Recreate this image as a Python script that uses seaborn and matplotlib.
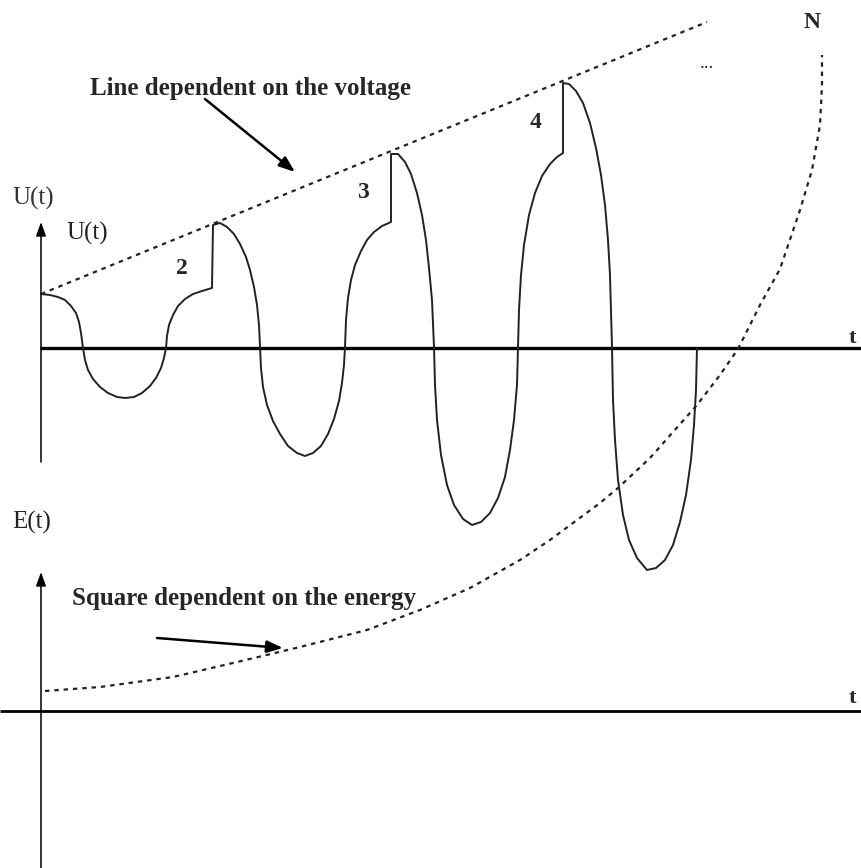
import matplotlib
matplotlib.use("Agg")
import matplotlib.pyplot as plt
import seaborn as sns
import pandas as pd

# ---- data (pixel-like units, y grows downward) ----
wave_x = [41, 50, 58, 65, 71, 76, 79, 81, 83,
          85, 88, 93, 100, 108, 117, 125, 134, 142, 150, 156, 161, 164, 166,
          167, 169, 173, 178, 185, 193, 202, 212,
          213, 220, 227, 234, 240, 246, 250, 254, 257, 259, 260,
          261, 263, 267, 273, 280, 288, 297, 305, 313, 321, 328, 334, 339, 342, 344, 345,
          346, 348, 351, 355, 361, 367, 374, 382, 391,
          391, 398, 405, 411, 417, 422, 426, 429, 432, 434,
          435, 437, 441, 447, 454, 463, 472, 481, 490, 498, 505, 510, 514, 517, 518,
          519, 521, 524, 529, 535, 542, 550, 557, 563,
          563, 569, 576, 583, 590, 596, 601, 605, 608, 610, 611, 612,
          613, 615, 618, 623, 629, 637, 647, 656, 665, 673, 680, 686, 691, 694, 696, 697]
wave_y = [294, 295, 297, 300, 306, 313, 322, 333, 348,
          360, 370, 379, 387, 393, 397, 398, 397, 393, 386, 378, 368, 358, 348,
          336, 325, 315, 306, 299, 294, 291, 288,
          225, 223, 227, 234, 244, 257, 270, 287, 305, 325, 347,
          368, 387, 405, 421, 434, 446, 453, 456, 453, 446, 434, 419, 401, 383, 365, 347,
          320, 298, 280, 265, 251, 240, 232, 226, 222,
          154, 154, 162, 174, 193, 215, 240, 268, 300, 347,
          385, 420, 455, 485, 505, 519, 525, 522, 513, 498, 477, 450, 420, 385, 347,
          310, 275, 245, 215, 193, 176, 164, 157, 153,
          83, 84, 91, 103, 123, 148, 175, 205, 240, 275, 310, 347,
          400, 440, 480, 515, 540, 558, 570, 568, 560, 545, 522, 495, 460, 425, 390, 348]

voltage_x = [41, 707]
voltage_y = [294, 22]

energy_x = [45, 100, 173, 233, 300, 367, 420, 470, 520, 550, 600, 618, 650, 697, 720,
            738, 760, 780, 800, 812, 820, 822, 822]
energy_y = [691, 687, 677, 663, 647, 630, 610, 588, 560, 540, 503, 488, 458, 405, 375,
            349, 305, 269, 210, 170, 125, 85, 55]

peak_labels = ["2", "3", "4"]
peak_label_x = [182, 363, 536]
peak_label_y = [268, 192, 123]

# ---- figure ----
sns.set_theme(style="white")
plt.rcParams["font.family"] = ["Liberation Serif", "DejaVu Serif"]

fig = plt.figure(figsize=(8.62, 8.68), dpi=100)
ax = fig.add_axes([0, 0, 1, 1])

# horizontal time axes
ax.plot([40, 862], [348, 348], color="black", lw=2.4, solid_capstyle="butt")
ax.plot([0, 862], [711, 711], color="black", lw=2.0, solid_capstyle="butt")

# vertical axes with arrow heads
arrow_kw = dict(arrowstyle="-|>,head_length=0.7,head_width=0.25", color="black", lw=1.1,
                shrinkA=0, shrinkB=0)
ax.annotate("", xy=(41, 222), xytext=(41, 462), arrowprops=arrow_kw)
ax.annotate("", xy=(41, 572), xytext=(41, 868), arrowprops=arrow_kw)

# waveform
wave_df = pd.DataFrame({"x": wave_x, "y": wave_y})
sns.lineplot(data=wave_df, x="x", y="y", sort=False, estimator=None, ax=ax,
             color="#222222", lw=1.4)

# voltage envelope line (dotted)
volt_df = pd.DataFrame({"x": voltage_x, "y": voltage_y})
sns.lineplot(data=volt_df, x="x", y="y", sort=False, estimator=None, ax=ax,
             color="#222222", lw=1.6, linestyle=(0, (2.0, 2.2)))

# energy curve (dotted)
en_df = pd.DataFrame({"x": energy_x, "y": energy_y})
sns.lineplot(data=en_df, x="x", y="y", sort=False, estimator=None, ax=ax,
             color="#222222", lw=1.6, linestyle=(0, (2.0, 2.2)))

ax.set_xlim(0, 862)
ax.set_ylim(868, 0)
ax.axis("off")

# labels
ax.text(12, 198, "U(t)", fontsize=18, va="center", ha="left", color="#333333")
ax.text(66, 233, "U(t)", fontsize=18, va="center", ha="left", color="#222222")
ax.text(12, 522, "E(t)", fontsize=18, va="center", ha="left", color="#222222")
ax.text(852, 338, "t", fontsize=16, fontweight="bold", va="center", ha="center")
ax.text(852, 698, "t", fontsize=16, fontweight="bold", va="center", ha="center")
for lab, lx, ly in zip(peak_labels, peak_label_x, peak_label_y):
    ax.text(lx, ly, lab, fontsize=17, fontweight="bold", va="center", ha="center")
ax.text(812, 22, "N", fontsize=17, fontweight="bold", va="center", ha="center")
ax.text(707, 64, "...", fontsize=14, va="center", ha="center")

ax.text(90, 88, "Line dependent on the voltage", fontsize=18, fontweight="bold",
        va="center", ha="left")
ax.text(72, 598, "Square dependent on the energy", fontsize=18, fontweight="bold",
        va="center", ha="left")

ptr_kw = dict(arrowstyle="-|>,head_length=0.8,head_width=0.3", color="black", lw=1.8,
              shrinkA=0, shrinkB=0)
ax.annotate("", xy=(295, 172), xytext=(205, 99), arrowprops=ptr_kw)
ax.annotate("", xy=(283, 648), xytext=(157, 638), arrowprops=ptr_kw)

fig.savefig("out.png", dpi=100)
